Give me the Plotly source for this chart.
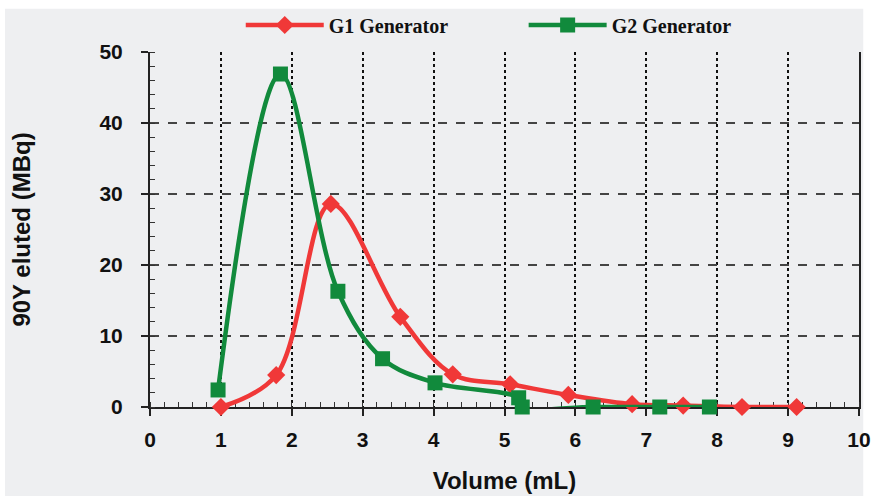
import plotly.graph_objects as go

# Elution profiles of 90Y from the two generators
g1_volume = [1.0, 1.78, 2.55, 3.53, 4.27, 5.08, 5.9, 6.8, 7.52, 8.35, 9.12]
g1_activity = [0.0, 4.5, 28.6, 12.7, 4.6, 3.2, 1.7, 0.4, 0.2, 0.0, 0.0]

g2_volume = [0.96, 1.84, 2.65, 3.28, 4.02, 5.2, 5.25, 6.25, 7.19, 7.89]
g2_activity = [2.4, 46.9, 16.3, 6.8, 3.4, 1.3, 0.0, 0.0, 0.0, 0.0]

x_ticks = list(range(0, 11))
y_ticks = [0, 10, 20, 30, 40, 50]

RED = "#f03838"
GREEN = "#118a3c"
BG = "#eeeff1"
SANS = "Liberation Sans, Arial, sans-serif"
SERIF = "Liberation Serif, Times New Roman, serif"
TICK_FONT = dict(family=SANS, size=21, color="#111111", weight="bold")
TITLE_FONT = dict(family=SANS, size=24, color="#111111", weight="bold")
LEGEND_FONT = dict(family=SERIF, size=20, color="#111111", weight="bold")

fig = go.Figure()
fig.add_trace(go.Scatter(
    x=g1_volume, y=g1_activity, name="G1 Generator", legend="legend", showlegend=True,
    mode="lines+markers", cliponaxis=False,
    line=dict(color=RED, width=4.5, shape="spline", smoothing=1.0),
    marker=dict(symbol="diamond", size=14, color=RED),
))
fig.add_trace(go.Scatter(
    x=g2_volume, y=g2_activity, name="G2 Generator", legend="legend2", showlegend=True,
    mode="lines+markers", cliponaxis=False,
    line=dict(color=GREEN, width=4.5, shape="spline", smoothing=1.0),
    marker=dict(symbol="square", size=15, color=GREEN),
))

fig.update_xaxes(
    range=[0, 10], tickvals=x_ticks, ticktext=[str(v) for v in x_ticks],
    showline=True, linecolor="#222222", linewidth=2, layer="below traces",
    ticks="outside", ticklen=7, tickwidth=1.5, tickcolor="#222222",
    minor=dict(dtick=0.2, ticks="inside", ticklen=5, tickwidth=1, tickcolor="#333333", showgrid=False),
    showgrid=True, gridcolor="#111111", griddash="dot", gridwidth=1.5,
    zeroline=False, tickfont=TICK_FONT, ticklabelstandoff=6,
    title=dict(text="Volume (mL)", font=TITLE_FONT, standoff=22),
)
fig.update_yaxes(
    range=[0, 50], tickvals=y_ticks,
    showline=True, linecolor="#222222", linewidth=2, mirror=True, layer="below traces",
    ticks="outside", ticklen=7, tickwidth=1.5, tickcolor="#222222",
    minor=dict(dtick=2, ticks="inside", ticklen=5, tickwidth=1, tickcolor="#333333", showgrid=False),
    showgrid=True, gridcolor="#444444", griddash="dash", gridwidth=1.5,
    zeroline=False, tickfont=TICK_FONT, ticklabelstandoff=14,
    title=dict(text="90Y eluted (MBq)", font=TITLE_FONT, standoff=62),
)

legend_common = dict(
    orientation="h", yanchor="middle", y=1.076, xanchor="left",
    font=LEGEND_FONT, bgcolor="rgba(0,0,0,0)", itemwidth=78,
)
fig.update_layout(
    width=880, height=496, showlegend=True,
    margin=dict(l=150, r=21, t=52, b=89, autoexpand=False),
    paper_bgcolor=BG, plot_bgcolor=BG,
    font=dict(family=SANS),
    legend=dict(x=0.128, **legend_common),
    legend2=dict(x=0.527, **legend_common),
    shapes=[
        # white border strips around the grey canvas
        dict(type="rect", xref="paper", yref="paper", x0=-0.3, x1=1.1, y0=1.122, y1=1.3,
             fillcolor="white", line=dict(width=0), layer="below"),
        dict(type="rect", xref="paper", yref="paper", x0=1.006, x1=1.1, y0=-0.3, y1=1.3,
             fillcolor="white", line=dict(width=0), layer="below"),
        dict(type="rect", xref="paper", yref="paper", x0=-0.3, x1=-0.2045, y0=-0.3, y1=1.3,
             fillcolor="white", line=dict(width=0), layer="below"),
    ],
)

fig.write_html("out.html")
